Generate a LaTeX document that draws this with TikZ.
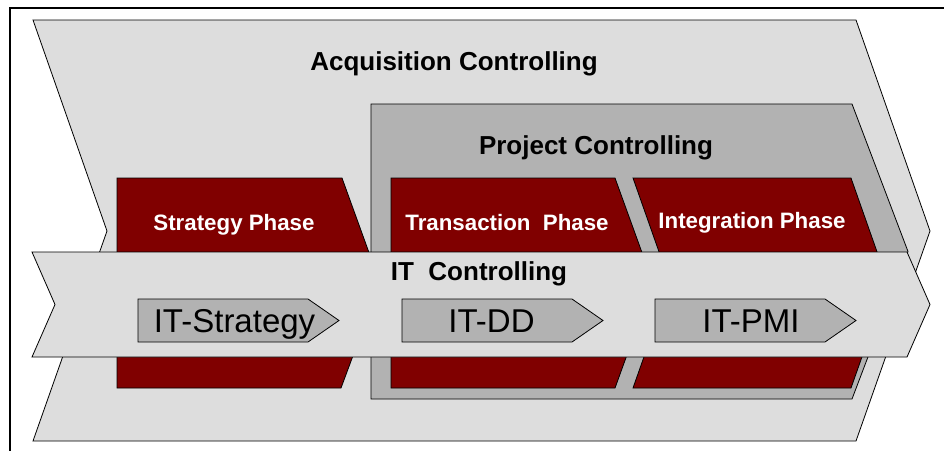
\documentclass[tikz,border=0pt]{standalone}
\usepackage{fontspec}
\setmainfont{Liberation Sans}
\definecolor{lgray}{HTML}{DDDDDD}
\definecolor{mgray}{HTML}{B2B2B2}
\definecolor{dred}{HTML}{800000}
\begin{document}
\begin{tikzpicture}[x=1pt,y=-1pt,
  shapeline/.style={draw=black,line width=0.8pt,line join=miter},
  bigtitle/.style={anchor=base,inner sep=0pt,font=\bfseries\fontsize{26}{30}\selectfont},
  phasetitle/.style={anchor=base,inner sep=0pt,text=white,font=\bfseries\fontsize{22.3}{26}\selectfont},
  ittitle/.style={anchor=base,inner sep=0pt,font=\fontsize{33}{38}\selectfont}]
\useasboundingbox (0,0) rectangle (944,450);
\fill[white] (0,0) rectangle (944,450);
% frame
\draw[line width=2pt] (10,8) rectangle (960,470);
% acquisition controlling
\draw[shapeline,fill=lgray] (33,20) -- (856,20) -- (930,231) -- (856,441) -- (33,441) -- (107,231) -- cycle;
% project controlling
\draw[shapeline,fill=mgray] (371,104) -- (852,104) -- (908,251.5) -- (852,399) -- (371,399) -- cycle;
% phases
\draw[shapeline,fill=dred] (117,178) -- (342,178) -- (380,283) -- (341,388) -- (117,388) -- cycle;
\draw[shapeline,fill=dred] (391,178) -- (615,178) -- (653,283) -- (615,388) -- (391,388) -- cycle;
\draw[shapeline,fill=dred] (633,178) -- (851,178) -- (888,283) -- (851,388) -- (633,388) -- (670,283) -- cycle;
% IT band
\draw[shapeline,fill=lgray] (32,252) -- (907,252) -- (930,304.5) -- (907,357) -- (32,357) -- (55,304.5) -- cycle;
% small arrows
\draw[shapeline,fill=mgray] (138,299) -- (308,299) -- (339,320.5) -- (308,342) -- (138,342) -- cycle;
\draw[shapeline,fill=mgray] (402,299) -- (572,299) -- (603,320.5) -- (572,342) -- (402,342) -- cycle;
\draw[shapeline,fill=mgray] (655,299) -- (825,299) -- (856,320.5) -- (825,342) -- (655,342) -- cycle;
% texts
\node[bigtitle] (acq) at (454,70) {Acquisition Controlling};
\node[bigtitle] (proj) at (596,154) {Project Controlling};
\node[phasetitle] (strat) at (234,230) {Strategy Phase};
\node[phasetitle] (trans) at (507,230) {Transaction\ \ Phase};
\node[phasetitle] (integ) at (752,228.5) {Integration Phase};
\node[bigtitle] (itc) at (479,280) {IT\ \ Controlling};
\node[ittitle] (its) at (234.5,332.5) {IT-Strategy};
\node[ittitle] (itdd) at (491.5,332.5) {IT-DD};
\node[ittitle] (itpmi) at (751,332.5) {IT-PMI};
\end{tikzpicture}
\end{document}
